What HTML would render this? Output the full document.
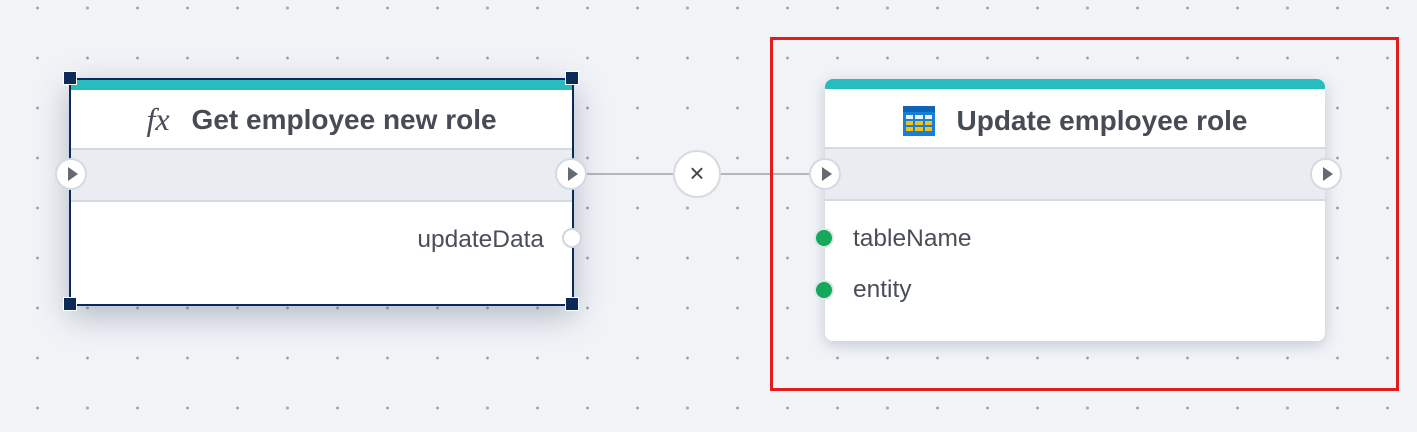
<!DOCTYPE html>
<html><head><style>
body{margin:0;width:1417px;height:432px;overflow:hidden;background-color:#f1f3f7;
background-image:radial-gradient(circle,#9aa0a8 1.2px,transparent 1.6px);background-size:50px 50px;background-position:12.5px -17px;
font-family:"Liberation Sans",sans-serif;position:relative}
.abs{position:absolute}
.node{position:absolute;background:#fff;box-sizing:border-box}
.title{position:absolute;left:0;right:0;top:12px;height:59px;display:flex;align-items:center;justify-content:center;font-size:28px;font-weight:bold;color:#464b55}
.band{position:absolute;left:0;right:0;height:50px;background:#e9ecf1;border-top:2px solid #d3dae4;border-bottom:2px solid #d3dae4}
.port{position:absolute;width:32px;height:32px;border-radius:50%;background:#fff;border:2px solid #d3dae4;box-sizing:border-box}
.port::after{content:"";position:absolute;left:11px;top:7px;border-left:10px solid #646a72;border-top:7px solid transparent;border-bottom:7px solid transparent}
.h{position:absolute;width:12px;height:12px;background:#0b2a57;border:1px solid #fff}
.lbl{position:absolute;font-size:24.5px;color:#4a4f57}
.dot{position:absolute;width:20px;height:20px;border-radius:50%;background:#14a85a;border:2px solid #dfe4ea;box-sizing:border-box}
</style></head><body>
<div class="abs" style="left:587px;top:173px;width:223px;height:2px;background:#b3b7bd"></div>
<div class="abs" style="left:673px;top:150px;width:48px;height:48px;border-radius:50%;background:#fff;border:2px solid #d6dbe2;box-sizing:border-box;text-align:center;line-height:42px;font-size:26px;color:#444">×</div>

<div class="node" style="left:69px;top:78px;width:505px;height:228px;border:2px solid #0b2a57;box-shadow:0 10px 30px rgba(60,80,110,.35)">
 <div class="abs" style="left:0;right:0;top:0;height:10px;background:#28bcbf"></div>
 <div class="title" style="top:10px"><span style="font-family:'Liberation Serif',serif;font-style:italic;font-weight:normal;font-size:32px;margin-right:22px">fx</span>Get employee new role</div>
 <div class="band" style="top:68px"></div>
 <div class="lbl" style="right:28px;top:146px">updateData</div>
</div>
<div class="h" style="left:63px;top:71px"></div><div class="h" style="left:565px;top:71px"></div>
<div class="h" style="left:63px;top:297px"></div><div class="h" style="left:565px;top:297px"></div>
<div class="port" style="left:55px;top:158px"></div>
<div class="port" style="left:555px;top:158px"></div>
<div class="abs" style="left:562px;top:228px;width:20px;height:20px;border-radius:50%;background:#fff;border:2px solid #cfd6df;box-sizing:border-box"></div>

<div class="node" style="left:825px;top:79px;width:500px;height:262px;border-radius:8px;overflow:hidden;box-shadow:0 4px 14px rgba(60,80,110,.25)">
 <div class="abs" style="left:0;right:0;top:0;height:10px;background:#28bcbf"></div>
 <div class="title"><svg width="32" height="30" style="margin-right:22px" viewBox="0 0 32 30"><rect width="32" height="30" fill="#1a7fd6"/><rect x="0" y="0" width="32" height="6" fill="#0f63b8"/>
 <g fill="#e8f2fc"><rect x="3" y="9" width="7" height="4"/><rect x="12" y="9" width="8" height="4"/><rect x="22" y="9" width="7" height="4"/></g>
 <g fill="#f4c20d"><rect x="3" y="15" width="7" height="4"/><rect x="12" y="15" width="8" height="4"/><rect x="22" y="15" width="7" height="4"/><rect x="3" y="21" width="7" height="4"/><rect x="12" y="21" width="8" height="4"/><rect x="22" y="21" width="7" height="4"/></g></svg>Update employee role</div>
 <div class="band" style="top:68px"></div>
 <div class="lbl" style="left:28px;top:146px">tableName</div>
 <div class="lbl" style="left:28px;top:197px">entity</div>
</div>
<div class="port" style="left:809px;top:158px"></div>
<div class="port" style="left:1310px;top:158px"></div>
<div class="dot" style="left:814px;top:228px"></div>
<div class="dot" style="left:814px;top:280px"></div>

<div class="abs" style="left:770px;top:37px;width:629px;height:354px;border:3px solid #e31b1b;box-sizing:border-box"></div>
</body></html>
